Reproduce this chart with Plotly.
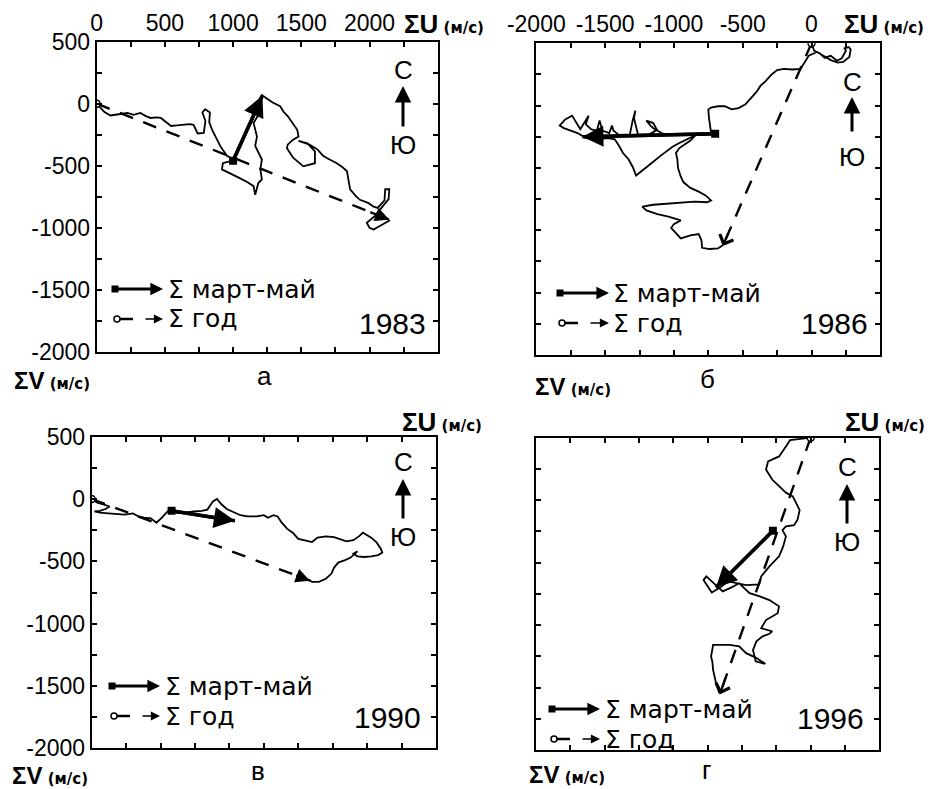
import plotly.graph_objects as go

W, H = 944, 789
FONT = "Liberation Sans, Arial, sans-serif"
LEG_FONT = "DejaVu Sans, Liberation Sans, sans-serif"

# ---------------- data (progressive vector sums, m/s) ----------------
# panel а — 1983
A_PATH_U = [0, 25, 55, 100, 160, 225, 270, 320, 360, 395, 440, 470, 510, 545, 590, 640, 680, 710, 730, 740,
            785, 797, 775, 795, 830, 825, 850, 880, 910, 955, 1005, 960, 925, 918, 980, 1030, 1100, 1150, 1162,
            1185, 1211, 1200, 1211, 1180, 1162, 1175, 1150, 1175, 1199, 1175, 1211, 1250, 1290, 1345, 1370,
            1400, 1420, 1445, 1470, 1480, 1440, 1400, 1395, 1440, 1515, 1600, 1600, 1545, 1480, 1560, 1620,
            1660, 1690, 1760, 1800, 1835, 1845, 1858, 1900, 1930, 1990, 2030, 2060, 2110, 2115, 2145, 2140,
            2090, 2040, 1980, 2000, 2030, 2090, 2150]
A_PATH_V = [0, -30, -65, -95, -85, -75, -90, -75, -100, -115, -110, -115, -150, -180, -175, -170, -165, -170,
            -210, -240, -235, -140, -70, -45, -70, -150, -220, -290, -350, -420, -450, -470, -480, -530, -560,
            -590, -630, -665, -735, -640, -610, -530, -450, -380, -340, -265, -155, -110, -75, 5, 70, 40, 10,
            -20, -65, -100, -130, -170, -210, -265, -290, -330, -360, -435, -505, -480, -385, -320, -300, -330,
            -370, -420, -440, -480, -510, -545, -610, -690, -745, -775, -800, -830, -840, -780, -690, -690,
            -770, -840, -905, -960, -1000, -1015, -980, -940]
A_SPRING_U = [1000, 1215]
A_SPRING_V = [-460, 65]
A_YEAR_U = [0, 2145]
A_YEAR_V = [0, -935]

# panel б — 1986
B_PATH_U = [0, 20, 60, 95, 140, 185, 220, 250, 240, 270, 285, 275, 230, 190, 140, 90, 40, -20, -50, -80,
            -140, -200, -250, -290, -330, -370, -400, -440, -480, -530, -580, -630, -680, -730, -750, -745,
            -740, -730, -700, -800, -900, -1000, -1080, -1120, -1150, -1200, -1170, -1130, -1180, -1260,
            -1290, -1280, -1300, -1320, -1400, -1440, -1450, -1470, -1520, -1540, -1560, -1600, -1640, -1620,
            -1680, -1740, -1790, -1830, -1800, -1700, -1640, -1560, -1480, -1430, -1400, -1370, -1330, -1300,
            -1275, -1240, -1200, -1150, -1100, -1060, -1010, -960, -900, -840, -880, -960, -985, -975, -970,
            -950, -930, -880, -820, -770, -730, -760, -850, -950, -1050, -1150, -1230, -1200, -1120, -1040,
            -950, -1000, -1020, -990, -950, -880, -820, -800, -795, -740, -680, -645]
B_PATH_V = [0, -60, -80, -115, -100, -140, -120, -60, -40, -30, -50, -110, -150, -155, -135, -100, -70, -100,
            -150, -205, -210, -205, -215, -250, -300, -340, -390, -440, -490, -520, -530, -505, -505, -515,
            -530, -600, -660, -715, -725, -735, -730, -735, -725, -700, -640, -620, -660, -700, -730, -735,
            -600, -540, -620, -730, -735, -700, -660, -720, -700, -620, -700, -690, -650, -580, -690, -580,
            -610, -660, -680, -720, -760, -770, -760, -770, -820, -880, -930, -990, -1060, -1030, -1000, -950,
            -905, -870, -830, -800, -770, -735, -780, -840, -880, -930, -1000, -1070, -1115, -1160, -1190,
            -1220, -1260, -1275, -1270, -1280, -1290, -1295, -1310, -1340, -1370, -1390, -1420, -1450, -1480,
            -1520, -1565, -1540, -1530, -1580, -1640, -1650, -1645, -1620]
B_SPRING_U = [-700, -1665]
B_SPRING_V = [-725, -750]
B_YEAR_U = [0, -645]
B_YEAR_V = [0, -1625]

# panel в — 1990
C_PATH_U = [0, 40, 90, 130, 100, 60, 20, 60, 120, 180, 240, 300, 340, 380, 430, 470, 510, 550, 580, 620,
            680, 740, 800, 840, 880, 910, 940, 980, 1040, 1080, 1130, 1200, 1250, 1280, 1320, 1350, 1380,
            1420, 1460, 1500, 1540, 1600, 1640, 1700, 1760, 1800, 1850, 1900, 1940, 1970, 2000, 2030, 2070,
            2100, 2110, 2080, 2030, 1980, 1930, 1900, 1930, 1880, 1840, 1790, 1760, 1740, 1700, 1650, 1600,
            1580]
C_PATH_V = [0, -30, -45, -60, -80, -95, -100, -110, -115, -120, -125, -115, -140, -150, -155, -190, -150,
            -100, -90, -110, -110, -100, -95, -85, -20, 0, -40, -80, -110, -130, -140, -140, -130, -150, -130,
            -140, -190, -240, -270, -320, -330, -345, -310, -300, -305, -320, -340, -330, -300, -270, -290,
            -310, -350, -400, -430, -450, -460, -465, -460, -440, -420, -470, -490, -510, -550, -600, -640,
            -665, -665, -650]
C_SPRING_U = [580, 1040]
C_SPRING_V = [-95, -175]
C_YEAR_U = [0, 1585]
C_YEAR_V = [0, -655]

# panel г — 1996
D_PATH_U = [0, -60, -150, -180, -230, -310, -325, -280, -230, -180, -130, -105, -80, -95, -120, -180, -205,
            -180, -200, -230, -300, -360, -375, -470, -540, -600, -660, -720, -780, -760, -700, -640, -580,
            -520, -445, -370, -300, -230, -240, -325, -360, -280, -300, -350, -395, -420, -400, -330, -400,
            -470, -520, -590, -710, -725, -715, -710, -690, -665]
D_PATH_V = [0, -10, -20, -70, -150, -190, -255, -335, -390, -440, -470, -520, -580, -655, -700, -710, -740,
            -790, -870, -950, -1030, -1110, -1175, -1180, -1165, -1150, -1200, -1240, -1140, -1110, -1170,
            -1230, -1200, -1165, -1245, -1270, -1300, -1350, -1405, -1460, -1525, -1550, -1570, -1590, -1630,
            -1700, -1790, -1810, -1760, -1725, -1670, -1658, -1658, -1750, -1800, -1860, -1960, -2045]
D_SPRING_U = [-275, -690]
D_SPRING_V = [-745, -1200]
D_YEAR_U = [0, -662]
D_YEAR_V = [0, -2055]

# axis ticks
X_TICKS_POS = [0, 250, 500, 750, 1000, 1250, 1500, 1750, 2000, 2250, 2500]
X_TEXT_POS = ["0", "", "500", "", "1000", "", "1500", "", "2000", "", ""]
X_TICKS_NEG = [-2000, -1750, -1500, -1250, -1000, -750, -500, -250, 0, 250, 500]
X_TEXT_NEG = ["-2000", "", "-1500", "", "-1000", "", "-500", "", "0", "", ""]
Y_TICKS_A = [-2000, -1750, -1500, -1250, -1000, -750, -500, -250, 0, 250, 500]
Y_TEXT_A = ["-2000", "", "-1500", "", "-1000", "", "-500", "", "0", "", "500"]
Y_TICKS_B = [-2500, -2250, -2000, -1750, -1500, -1250, -1000, -750, -500, -250, 0]

YEARS = ["1983", "1986", "1990", "1996"]
LETTERS = ["а", "б", "в", "г"]


def px(x):
    return x / W


def py(y):
    return 1 - y / H


def label(x, y, text, size, xanchor="center", family=FONT):
    return dict(x=px(x), y=py(y), xref="paper", yref="paper", xanchor=xanchor, yanchor="middle",
                showarrow=False, text=text, font=dict(family=family, size=size, color="black"))


UNIT = "<span style='font-family:DejaVu Sans;font-size:15px'> (м/с)</span>"

panels = [
    dict(s="", path=(A_PATH_U, A_PATH_V), spring=(A_SPRING_U, A_SPRING_V), year=(A_YEAR_U, A_YEAR_V),
         dom=((96.7, 437.7), (41.7, 351.7)), xr=[0, 2500], yr=[-2000, 500],
         xt=(X_TICKS_POS, X_TEXT_POS, True), yt=(Y_TICKS_A, Y_TEXT_A, True),
         U=(402, 24), V=(12, 380), L=(264, 376), Y=(428, 323), C=(403, 70, 145, 86, 128),
         leg=(289, 319, 115, 163, 166)),
    dict(s="2", path=(B_PATH_U, B_PATH_V), spring=(B_SPRING_U, B_SPRING_V), year=(B_YEAR_U, B_YEAR_V),
         dom=((536.3, 880.3), (43.3, 355)), xr=[-2000, 500], yr=[-2500, 0],
         xt=(X_TICKS_NEG, X_TEXT_NEG, True), yt=(Y_TICKS_B, [""] * 11, False),
         U=(842, 24), V=(533, 386), L=(707, 379), Y=(870, 323), C=(852, 82, 157, 97, 133),
         leg=(293, 323, 560, 609, 611)),
    dict(s="3", path=(C_PATH_U, C_PATH_V), spring=(C_SPRING_U, C_SPRING_V), year=(C_YEAR_U, C_YEAR_V),
         dom=((91.7, 436), (436.7, 748.3)), xr=[0, 2500], yr=[-2000, 500],
         xt=(X_TICKS_POS, [""] * 11, False), yt=(Y_TICKS_A, Y_TEXT_A, True),
         U=(400, 422), V=(10, 775), L=(258, 771), Y=(423, 717), C=(403, 462, 537, 479, 520),
         leg=(686, 716, 112, 160, 163)),
    dict(s="4", path=(D_PATH_U, D_PATH_V), spring=(D_SPRING_U, D_SPRING_V), year=(D_YEAR_U, D_YEAR_V),
         dom=((536, 879.3), (437.7, 750)), xr=[-2000, 500], yr=[-2500, 0],
         xt=(X_TICKS_NEG, [""] * 11, False), yt=(Y_TICKS_B, [""] * 11, False),
         U=(843, 422), V=(527, 774), L=(706, 770), Y=(866, 718), C=(847, 467, 542, 484, 525),
         leg=(709, 739, 552, 600, 603)),
]

fig = go.Figure()
annotations = []
shapes = []

for i, p in enumerate(panels):
    s = p["s"]
    xa, ya = "x" + s, "y" + s
    pu, pv = p["path"]
    su, sv = p["spring"]
    yu, yv = p["year"]
    # path
    fig.add_trace(go.Scatter(x=pu, y=pv, xaxis=xa, yaxis=ya, mode="lines",
                             line=dict(color="black", width=1.8), hoverinfo="skip", showlegend=False))
    # yearly sum (dashed)
    fig.add_trace(go.Scatter(x=yu, y=yv, xaxis=xa, yaxis=ya, mode="lines",
                             line=dict(color="black", width=2.4, dash="14px,11px"),
                             hoverinfo="skip", showlegend=False))
    fig.add_trace(go.Scatter(x=yu[:1], y=yv[:1], xaxis=xa, yaxis=ya, mode="markers",
                             marker=dict(symbol="circle", size=7, color="white",
                                         line=dict(color="black", width=1.5)),
                             hoverinfo="skip", showlegend=False))
    head = 2 if i in (0, 2) else 4
    annotations.append(dict(x=yu[1], y=yv[1], ax=yu[1] - 0.07 * (yu[1] - yu[0]),
                            ay=yv[1] - 0.07 * (yv[1] - yv[0]), xref=xa, yref=ya,
                            axref=xa, ayref=ya, showarrow=True, arrowhead=head, arrowsize=1.3,
                            arrowwidth=2.2, arrowcolor="black", text=""))
    # spring sum (thick)
    fig.add_trace(go.Scatter(x=su, y=sv, xaxis=xa, yaxis=ya, mode="lines",
                             line=dict(color="black", width=3.5), hoverinfo="skip", showlegend=False))
    fig.add_trace(go.Scatter(x=su[:1], y=sv[:1], xaxis=xa, yaxis=ya, mode="markers",
                             marker=dict(symbol="square", size=8, color="black"),
                             hoverinfo="skip", showlegend=False))
    annotations.append(dict(x=su[1], y=sv[1], ax=su[0], ay=sv[0], xref=xa, yref=ya,
                            axref=xa, ayref=ya, showarrow=True, arrowhead=2, arrowsize=1.2,
                            arrowwidth=3.5, arrowcolor="black", text=""))

    # texts
    ux, uy = p["U"]
    annotations.append(label(ux, uy, "<b>ΣU</b><b>" + UNIT + "</b>", 26, xanchor="left"))
    vx, vy = p["V"]
    annotations.append(label(vx, vy, "<b>ΣV</b><b>" + UNIT + "</b>", 24, xanchor="left"))
    lx, ly = p["L"]
    annotations.append(label(lx, ly, LETTERS[i], 26))
    yx, yy = p["Y"]
    annotations.append(label(yx, yy, YEARS[i], 30, xanchor="right"))
    cx, cS, cJ, atop, abot = p["C"]
    annotations.append(label(cx, cS, "С", 26))
    annotations.append(label(cx, cJ, "Ю", 26))
    annotations.append(dict(x=px(cx), y=py(atop), ax=0, ay=abot - atop, xref="paper", yref="paper",
                            showarrow=True, arrowhead=2, arrowsize=1.1, arrowwidth=3,
                            arrowcolor="black", text=""))
    # in-plot legend
    r1, r2, sq, tip, tx = p["leg"]
    shapes.append(dict(type="rect", xref="paper", yref="paper", x0=px(sq - 3.5), x1=px(sq + 3.5),
                       y0=py(r1 + 3.5), y1=py(r1 - 3.5), fillcolor="black", line=dict(width=0)))
    annotations.append(dict(x=px(tip), y=py(r1), ax=-(tip - sq), ay=0, xref="paper", yref="paper",
                            showarrow=True, arrowhead=2, arrowsize=0.9, arrowwidth=2.8,
                            arrowcolor="black", text=""))
    shapes.append(dict(type="circle", xref="paper", yref="paper", x0=px(sq - 1), x1=px(sq + 5),
                       y0=py(r2 + 3), y1=py(r2 - 3), fillcolor="white",
                       line=dict(color="black", width=1.5)))
    shapes.append(dict(type="line", xref="paper", yref="paper", x0=px(sq + 5), x1=px(sq + 18),
                       y0=py(r2), y1=py(r2), line=dict(color="black", width=2.5)))
    annotations.append(dict(x=px(tip), y=py(r2), ax=-(tip - sq - 29), ay=0, xref="paper",
                            yref="paper", showarrow=True, arrowhead=2, arrowsize=1.4,
                            arrowwidth=1.3, arrowcolor="black", text=""))
    annotations.append(label(tx, r1, "Σ март-май", 25, xanchor="left", family=LEG_FONT))
    annotations.append(label(tx, r2, "Σ год", 25, xanchor="left", family=LEG_FONT))

    (x0, x1), (y0, y1) = p["dom"]
    xtv, xtt, xshow = p["xt"]
    ytv, ytt, yshow = p["yt"]
    axis_common = dict(showline=True, linewidth=2, linecolor="black", mirror="ticks",
                       ticks="inside", ticklen=5, tickwidth=1.5, tickcolor="black",
                       showgrid=False, zeroline=False, automargin=False,
                       tickfont=dict(family=FONT, size=23, color="black"))
    xname = "xaxis" + s
    yname = "yaxis" + s
    fig.update_layout(**{
        xname: dict(domain=[px(x0), px(x1)], range=p["xr"], anchor=ya, side="top",
                    tickmode="array", tickvals=xtv, ticktext=xtt, showticklabels=xshow,
                    **axis_common),
        yname: dict(domain=[py(y1), py(y0)], range=p["yr"], anchor=xa,
                    tickmode="array", tickvals=ytv, ticktext=ytt, showticklabels=yshow,
                    **axis_common),
    })

fig.update_layout(template="none", width=W, height=H, margin=dict(l=0, r=0, t=0, b=0, pad=0),
                  paper_bgcolor="white", plot_bgcolor="white",
                  annotations=annotations, shapes=shapes, showlegend=False)

fig.write_html("out.html", config={"displayModeBar": False},
               post_script="document.body.style.margin='0px';")
